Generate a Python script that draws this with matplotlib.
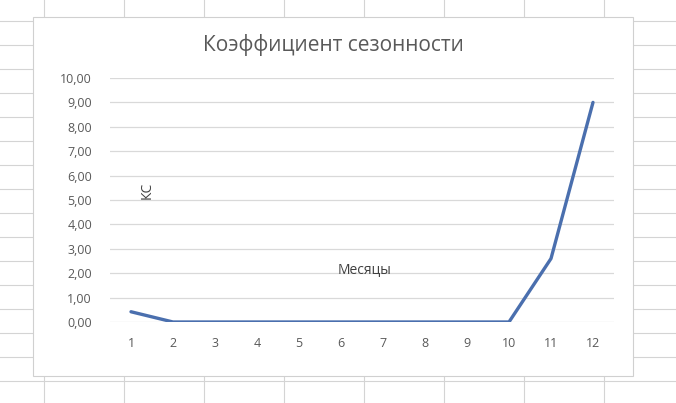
import numpy as np
import matplotlib.pyplot as plt

plt.rcParams['font.family'] = ['Open Sans', 'DejaVu Sans']

# данные
months = [1, 2, 3, 4, 5, 6, 7, 8, 9, 10, 11, 12]
ks = [0.42, 0.0, 0.0, 0.0, 0.0, 0.0, 0.0, 0.0, 0.0, 0.0, 2.6, 9.0]
y_ticks = [0, 1, 2, 3, 4, 5, 6, 7, 8, 9, 10]

W, H = 676, 403
fig = plt.figure(figsize=(W / 100, H / 100), dpi=100)
fig.patch.set_facecolor('white')

# фон: сетка листа Excel
bg = fig.add_axes([0, 0, 1, 1])
bg.set_xlim(0, W)
bg.set_ylim(H, 0)
bg.axis('off')
for x in np.arange(44, W, 80):
    bg.axvline(x, color='#D4D4D4', lw=0.8)
for y in np.arange(21, H, 24):
    bg.axhline(y, color='#D4D4D4', lw=0.8)
# область диаграммы
bg.add_patch(plt.Rectangle((33, 17), 600, 359, facecolor='white',
                           edgecolor='#D0D0D0', lw=0.8, zorder=3))

# область построения
ax = fig.add_axes([110 / W, (H - 322) / H, 504 / W, (322 - 78) / H])
ax.set_facecolor('none')
ax.plot(months, ks, color='#4A6FAE', lw=2.4, solid_capstyle='round', zorder=5)
ax.set_xlim(0.5, 12.5)
ax.set_ylim(0, 10)
ax.set_yticks(y_ticks)
ax.set_yticklabels([f'{v:.2f}'.replace('.', ',') for v in y_ticks])
ax.set_xticks(months)
ax.set_xticklabels([str(m) for m in months])
ax.yaxis.grid(True, color='#D9D9D9', lw=0.9)
ax.set_axisbelow(True)
for s in ax.spines.values():
    s.set_visible(False)
ax.tick_params(axis='y', length=0, pad=13, labelsize=9, labelcolor='#595959')
ax.tick_params(axis='x', length=0, pad=11, labelsize=9, labelcolor='#595959')

fig.text(333 / W, 1 - 45 / H, 'Коэффициент сезонности', ha='center', va='center',
         fontsize=15, color='#595959')
fig.text(147 / W, 1 - 190 / H, 'КС', ha='center', va='center', rotation=90,
         fontsize=10, color='#404040')
fig.text(365 / W, 1 - 270 / H, 'Месяцы', ha='center', va='center',
         fontsize=10, color='#404040')

fig.savefig('out.png', dpi=100)
